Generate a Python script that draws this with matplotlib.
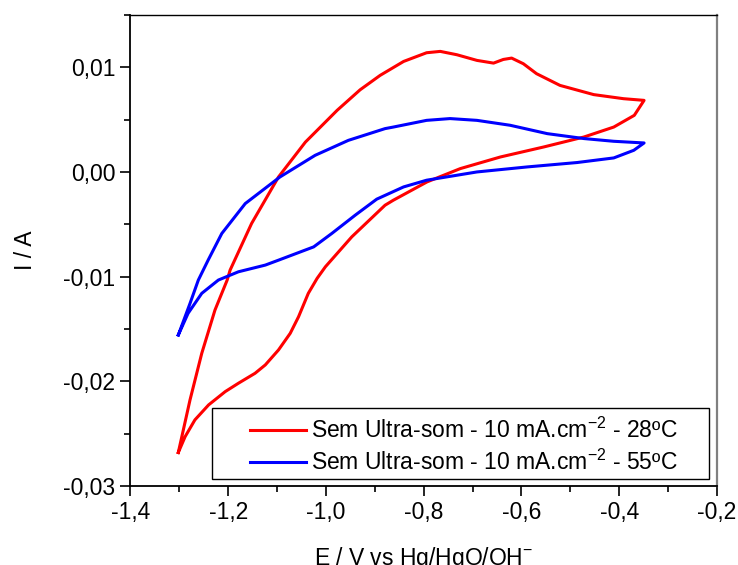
import matplotlib
matplotlib.use("Agg")
import matplotlib.pyplot as plt
from matplotlib.patches import Rectangle
from matplotlib.ticker import FuncFormatter, MultipleLocator

plt.rcParams['font.family'] = ['Liberation Sans', 'DejaVu Sans']
plt.rcParams['mathtext.default'] = 'regular'

# 28 C: anodic branch (-1.30 -> -0.35) then cathodic branch back to -1.30
E_28 = [-1.302, -1.278, -1.254, -1.227, -1.202, -1.196, -1.152, -1.097, -1.042,
        -0.977, -0.930, -0.889, -0.841, -0.794, -0.766, -0.732, -0.691, -0.657,
        -0.637, -0.620, -0.596, -0.569, -0.521, -0.452, -0.391, -0.349,
        -0.369, -0.411, -0.472, -0.554, -0.643, -0.725, -0.793, -0.862, -0.879,
        -0.947, -1.001, -1.018, -1.036, -1.056, -1.073, -1.097, -1.124, -1.145,
        -1.179, -1.206, -1.240, -1.268, -1.288, -1.302]
I_28 = [-0.02681, -0.02178, -0.01733, -0.01320, -0.01033, -0.00938, -0.00492, -0.00048, 0.00285,
        0.00589, 0.00785, 0.00923, 0.01056, 0.01139, 0.01152, 0.01120, 0.01066, 0.01040,
        0.01075, 0.01088, 0.01034, 0.00939, 0.00827, 0.00739, 0.00700, 0.00684,
        0.00541, 0.00429, 0.00334, 0.00239, 0.00143, 0.00032, -0.00095, -0.00270, -0.00318,
        -0.00620, -0.00906, -0.01017, -0.01160, -0.01384, -0.01542, -0.01701, -0.01844, -0.01924,
        -0.02019, -0.02099, -0.02226, -0.02369, -0.02529, -0.02681]

# 55 C
E_55 = [-1.302, -1.278, -1.261, -1.251, -1.241, -1.213, -1.165, -1.094, -1.022,
        -0.954, -0.879, -0.862, -0.794, -0.746, -0.691, -0.623, -0.547, -0.472,
        -0.411, -0.349,
        -0.370, -0.411, -0.486, -0.588, -0.691, -0.794, -0.841, -0.896, -0.940,
        -0.988, -1.025, -1.097, -1.124, -1.179, -1.220, -1.254, -1.282, -1.302]
I_55 = [-0.01558, -0.01256, -0.01033, -0.00938, -0.00843, -0.00588, -0.00302, -0.00048, 0.00159,
        0.00302, 0.00414, 0.00429, 0.00493, 0.00510, 0.00493, 0.00446, 0.00366, 0.00319,
        0.00293, 0.00277,
        0.00207, 0.00134, 0.00090, 0.00048, 0.00000, -0.00079, -0.00143, -0.00260, -0.00413,
        -0.00588, -0.00716, -0.00843, -0.00890, -0.00954, -0.01033, -0.01160, -0.01351, -0.01558]

LABELS = ["Sem Ultra-som - 10 mA.cm$^{-2}$ - 28ºC",
          "Sem Ultra-som - 10 mA.cm$^{-2}$ - 55ºC"]


def comma_fmt(decimals):
    def f(v, pos):
        s = f"{v:.{decimals}f}".replace(".", ",")
        if s.startswith("-") and float(s.replace(",", ".")) == 0:
            s = s[1:]
        return s
    return FuncFormatter(f)


fig = plt.figure(figsize=(7.38, 5.65), dpi=100, facecolor="white")
ax = fig.add_axes([0.1767, 0.140, 0.7947, 0.8335])

ax.plot(E_28, I_28, color="#ff0000", lw=2.2, solid_joinstyle="round", label=LABELS[0])
ax.plot(E_55, I_55, color="#0000ff", lw=2.2, solid_joinstyle="round", label=LABELS[1])

ax.set_xlim(-1.4, -0.2)
ax.set_ylim(-0.03, 0.015)
ax.xaxis.set_major_locator(MultipleLocator(0.2))
ax.xaxis.set_minor_locator(MultipleLocator(0.1))
ax.yaxis.set_major_locator(MultipleLocator(0.01))
ax.yaxis.set_minor_locator(MultipleLocator(0.005))
ax.xaxis.set_major_formatter(comma_fmt(1))
ax.yaxis.set_major_formatter(comma_fmt(2))

ax.tick_params(which="major", direction="out", length=7, width=1.2,
               labelsize=16.5, pad=4, top=False, right=False)
ax.tick_params(which="minor", direction="out", length=4, width=1.2,
               top=False, right=False)
for s in ("left", "bottom"):
    ax.spines[s].set_linewidth(1.3)
ax.spines["top"].set_linewidth(1.0)
ax.spines["right"].set_linewidth(1.6)
ax.spines["right"].set_color("#808080")

ax.set_xlabel("E / V vs Hg/HgO/OH$^{-}$", fontsize=16.5)
ax.set_ylabel("I / A", fontsize=16.5)
ax.xaxis.set_label_coords(0.5, -0.125)
ax.yaxis.set_label_coords(-0.16, 0.5)

# legend box drawn separately so the wide left margin of the original fits
ax.add_patch(Rectangle((0.1397, 0.0149), 0.8467, 0.1507, transform=ax.transAxes,
                       facecolor="white", edgecolor="black", lw=1.0, zorder=3))
leg = ax.legend(loc="center left", bbox_to_anchor=(0.2044, 0.0839), fontsize=16.5,
                frameon=False, handlelength=2.45, handletextpad=0.22, borderpad=0,
                labelspacing=0.3, borderaxespad=0)
leg.set_zorder(4)

fig.savefig("out.png", dpi=100, facecolor="white")
